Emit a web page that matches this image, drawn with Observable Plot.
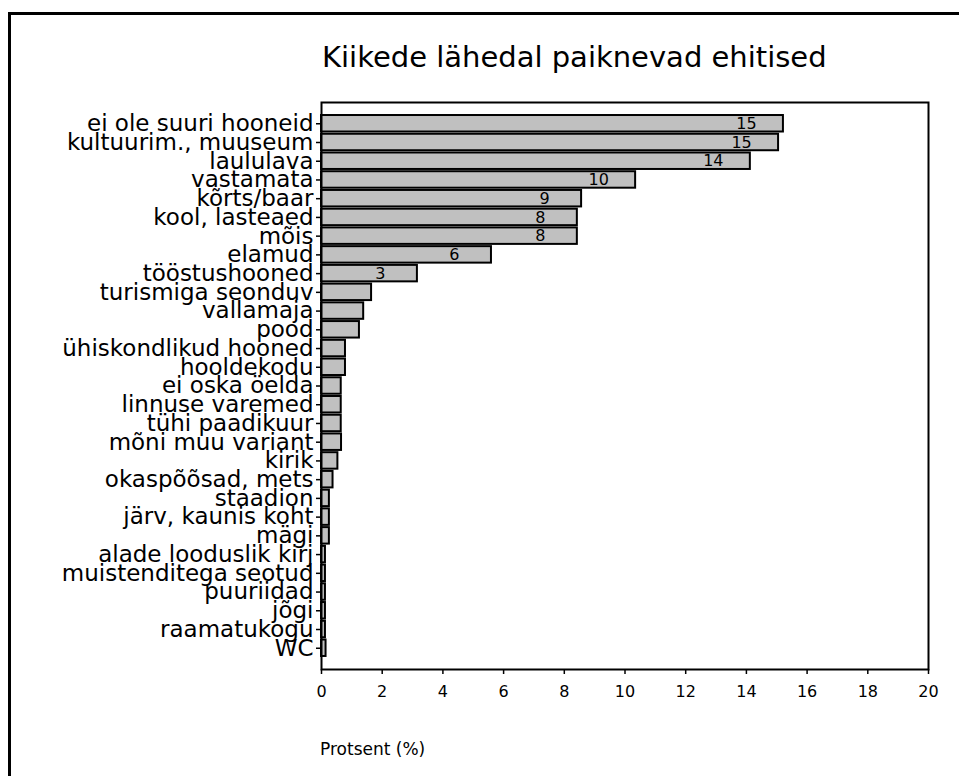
<!DOCTYPE html>
<html><head><meta charset="utf-8">
<script src="https://cdn.jsdelivr.net/npm/d3@7"></script>
<script src="https://cdn.jsdelivr.net/npm/@observablehq/plot@0.6"></script>
<style>
body{margin:0;background:#fff;}
#wrap{position:relative;width:959px;height:776px;overflow:hidden;font-family:"Comic Sans MS","DejaVu Sans",sans-serif;color:#000;}
#border{position:absolute;left:8px;top:12px;width:980px;height:800px;border-left:3px solid #000;border-top:3px solid #000;}
#title{position:absolute;left:322px;top:40px;font-size:29px;white-space:nowrap;}
#xlabel{position:absolute;left:320px;top:739px;font-size:17px;white-space:nowrap;}
#chart{position:absolute;left:0;top:0;}
</style>
</head><body>
<div id="wrap">
  <div id="border"></div>
  <div id="chart"></div>
  <div id="title">Kiikede lähedal paiknevad ehitised</div>
  <div id="xlabel">Protsent (%)</div>
</div>
<script>
const categories = [
  "ei ole suuri hooneid", "kultuurim., muuseum", "laululava", "vastamata", "kõrts/baar",
  "kool, lasteaed", "mõis", "elamud", "tööstushooned", "turismiga seonduv",
  "vallamaja", "pood", "ühiskondlikud hooned", "hooldekodu", "ei oska öelda",
  "linnuse varemed", "tühi paadikuur", "mõni muu variant", "kirik", "okaspõõsad, mets",
  "staadion", "järv, kaunis koht", "mägi", "alade looduslik kirj", "muistenditega seotud",
  "puuriidad", "jõgi", "raamatukogu", "WC"
];
const values = [
  15.22, 15.06, 14.13, 10.35, 8.57,
  8.43, 8.43, 5.6, 3.16, 1.65,
  1.39, 1.25, 0.79, 0.79, 0.65,
  0.65, 0.65, 0.66, 0.54, 0.38,
  0.26, 0.26, 0.26, 0.13, 0.13,
  0.13, 0.13, 0.13, 0.15
];
const valueLabels = ["15", "15", "14", "10", "9", "8", "8", "6", "3"];
const xTicks = [0, 2, 4, 6, 8, 10, 12, 14, 16, 18, 20];

const data = categories.map((c, i) => ({cat: c, value: values[i]}));
const labelData = valueLabels.map((t, i) => ({cat: categories[i], value: values[i], label: t}));

const chart = Plot.plot({
  width: 959,
  height: 776,
  marginLeft: 321,
  marginRight: 31,
  marginTop: 102,
  marginBottom: 107,
  style: {fontFamily: '"Comic Sans MS","DejaVu Sans",sans-serif', background: "transparent", color: "#000"},
  x: {domain: [0, 20], label: null},
  y: {domain: categories, paddingInner: 0.12, paddingOuter: 0.695, round: false, label: null},
  marks: [
    Plot.barX(data, {x: "value", y: "cat", fill: "#c0c0c0", stroke: "#000", strokeWidth: 2}),
    Plot.text(labelData, {x: "value", y: "cat", text: "label", dx: -37, fontSize: 16, fill: "#000"}),
    Plot.axisX({ticks: xTicks, tickSize: 5, tickPadding: 11, fontSize: 16, label: null, strokeWidth: 1.5}),
    Plot.axisY({tickSize: 5, tickPadding: 3, fontSize: 23, label: null, strokeWidth: 1.5}),
    Plot.frame({stroke: "#000", strokeWidth: 2})
  ]
});
document.getElementById("chart").appendChild(chart);
</script>
</body></html>
